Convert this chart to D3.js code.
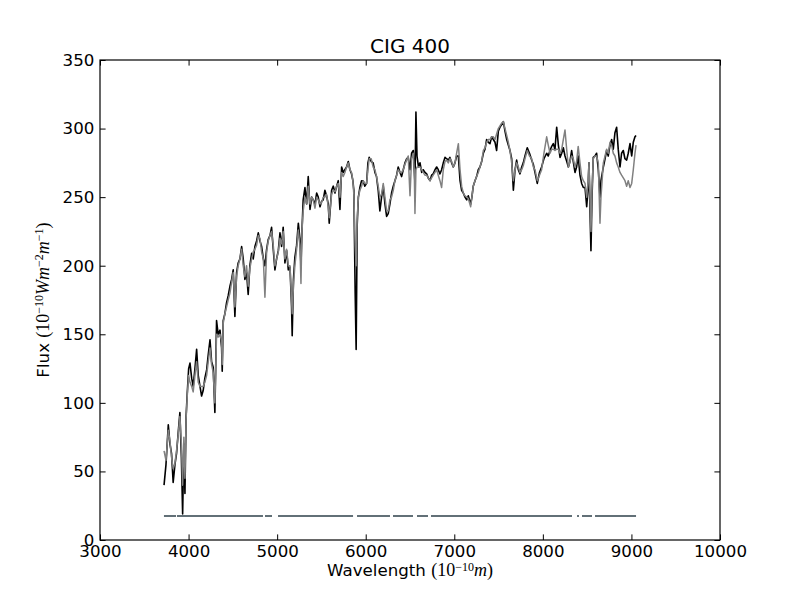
<!DOCTYPE html>
<html>
<head>
<meta charset="utf-8">
<script src="https://cdn.jsdelivr.net/npm/d3@7"></script>
<style>
  body { margin: 0; background: #fff; }
  text { font-family: "DejaVu Sans", sans-serif; fill: #000; }
  .math { font-family: "Liberation Serif", "DejaVu Serif", serif; }
</style>
</head>
<body>
<div id="chart"></div>
<script>
// wavelength grid (Angstrom)
var wave = [3723,3745,3771,3790,3808,3826,3846,3864,3885,3902,3919,3933,3947,3959,3972,3985,4001,4016,4035,4052,
  4072,4091,4109,4129,4147,4165,4184,4204,4222,4242,4260,4278,4297,4316,4334,4355,4373,4380,4391,4410,
  4429,4447,4467,4486,4504,4523,4542,4560,4580,4599,4617,4636,4655,4673,4692,4712,4730,4749,4768,4787,
  4806,4825,4844,4862,4881,4899,4919,4937,4956,4975,4994,5013,5032,5050,5068,5088,5107,5126,5145,5163,
  5170,5184,5200,5220,5239,5257,5269,5280,5294,5314,5333,5351,5371,5390,5407,5427,5446,5464,5484,5502,
  5520,5539,5558,5577,5588,5615,5634,5653,5672,5690,5709,5728,5746,5765,5784,5803,5822,5840,5855,5866,
  5881,5892,5904,5917,5934,5953,5971,5990,6010,6025,6039,6062,6084,6104,6122,6141,6160,6179,6198,6217,
  6236,6254,6273,6292,6311,6330,6349,6367,6387,6405,6424,6443,6462,6480,6500,6518,6537,6548,6556,6567,
  6579,6596,6613,6632,6649,6669,6688,6706,6726,6744,6762,6782,6801,6819,6838,6857,6876,6895,6913,6932,
  6951,6970,6989,7008,7026,7046,7065,7083,7102,7121,7140,7158,7185,7199,7214,7234,7252,7271,7290,7309,
  7328,7347,7365,7384,7403,7422,7441,7460,7478,7497,7516,7535,7554,7573,7592,7610,7629,7648,7667,7686,
  7704,7723,7742,7761,7779,7798,7824,7849,7874,7892,7911,7937,7962,7986,8012,8043,8061,8081,8100,8118,
  8137,8156,8175,8194,8213,8231,8250,8270,8288,8306,8325,8343,8363,8381,8399,8419,8438,8457,8476,8495,
  8509,8521,8532,8543,8555,8569,8589,8607,8626,8645,8656,8683,8702,8720,8738,8758,8777,8795,8814,8833,
  8851,8871,8889,8908,8927,8946,8964,8984,9003,9021,9040,9052];

// observed flux (black)
var fluxObs = [40,55,84,70,63,42,55,63,80,93,60,19,70,34,90,107,125,129,118,112,
  125,139,120,112,105,109,118,124,135,146,130,126,93,160,150,153,140,123,160,165,
  173,178,185,190,197,163,195,202,205,214,205,190,195,179,200,209,205,214,218,224,
  218,214,205,200,212,219,222,228,212,197,205,211,224,214,228,202,211,197,199,170,
  149,190,206,215,231,220,200,225,248,257,245,265,241,250,248,245,253,250,243,247,
  248,255,251,245,231,255,258,253,258,262,241,272,268,270,272,276,270,267,262,255,
  180,139,230,250,257,262,262,258,260,275,279,276,275,268,265,255,240,250,258,245,
  236,238,245,253,258,262,266,272,268,265,270,275,278,279,270,282,284,270,260,312,
  280,272,275,268,270,268,267,264,262,266,267,270,272,270,267,270,275,279,278,277,
  279,275,272,275,280,280,262,255,253,250,248,251,245,250,258,262,265,270,272,276,
  282,285,292,290,289,294,292,290,284,298,301,303,305,298,292,288,284,278,255,270,
  277,270,267,272,275,280,286,282,277,274,268,260,268,272,278,282,280,284,287,289,
  285,301,288,279,282,286,280,276,272,276,284,276,268,272,280,266,260,257,257,243,
  255,275,240,211,250,279,280,282,270,250,262,272,278,284,280,288,292,285,297,301,
  285,272,282,284,278,277,282,289,280,290,294,295];

// fitted model flux (grey)
var fluxModel = [65,58,80,72,60,52,56,65,78,90,70,40,75,45,88,105,120,115,112,108,
  120,130,115,112,112,112,115,120,130,140,128,122,100,150,148,150,145,128,158,165,
  170,175,180,188,195,170,192,200,205,212,200,192,200,185,198,205,210,212,215,222,
  220,210,205,177,210,218,222,225,215,200,205,210,220,216,225,205,212,200,200,175,
  165,185,200,212,226,215,187,225,240,250,245,258,245,250,248,242,250,248,245,246,
  250,250,252,243,235,252,255,254,258,260,250,268,265,268,272,275,270,268,262,252,
  215,200,235,250,255,258,262,260,260,270,278,278,272,270,265,258,250,252,260,250,
  240,240,248,250,255,262,266,270,268,268,270,274,277,280,251,278,282,270,238,270,
  272,272,272,270,268,266,266,264,262,264,266,268,270,266,262,257,270,276,277,275,
  278,276,272,275,282,289,270,258,253,251,250,249,243,250,258,262,265,268,272,276,
  284,286,290,292,292,294,294,292,296,300,302,304,305,300,295,290,284,275,262,270,
  275,272,268,270,273,278,284,280,278,272,270,262,266,270,282,294,288,282,285,285,
  284,285,285,282,285,292,299,284,272,276,280,278,272,276,287,275,265,262,260,250,
  260,275,250,225,255,278,280,280,275,231,250,275,280,285,282,290,288,282,280,275,
  272,268,266,264,262,258,262,257,260,270,282,288];

// masked-out wavelength ranges are the gaps; these are the kept pieces
var maskLevel = 17.5;
var maskSegments = [[3722,3858],[3869,4840],[4863,4942],[5010,5857],[5902,6274],[6308,6534],
  [6579,6703],[6737,8329],[8386,8408],[8442,8555],[8589,9052]];

var xTicks = [3000,4000,5000,6000,7000,8000,9000,10000];
var yTicks = [0,50,100,150,200,250,300,350];

var svgWidth = 800, svgHeight = 600;
var margin = { top: 60, left: 100, right: 80, bottom: 60 };
var chartWidth = svgWidth - margin.left - margin.right;
var chartHeight = svgHeight - margin.top - margin.bottom;
var tick = 5.6;

var svg = d3.select("#chart").append("svg")
  .attr("width", svgWidth)
  .attr("height", svgHeight);
var chartGroup = svg.append("g")
  .attr("transform", `translate(${margin.left}, ${margin.top})`);

var x = d3.scaleLinear().domain([3000, 10000]).range([0, chartWidth]);
var y = d3.scaleLinear().domain([0, 350]).range([chartHeight, 0]);

var line = d3.line()
  .x(function(d) { return x(d[0]); })
  .y(function(d) { return y(d[1]); });

chartGroup.append("path")
  .datum(wave.map(function(w, i) { return [w, fluxObs[i]]; }))
  .attr("d", line)
  .attr("fill", "none")
  .attr("stroke", "#000")
  .attr("stroke-width", 1.6)
  .attr("stroke-linejoin", "round");

chartGroup.append("path")
  .datum(wave.map(function(w, i) { return [w, fluxModel[i]]; }))
  .attr("d", line)
  .attr("fill", "none")
  .attr("stroke", "#808080")
  .attr("stroke-width", 1.5)
  .attr("stroke-linejoin", "round");

chartGroup.selectAll(".mask")
  .data(maskSegments)
  .enter().append("line")
  .attr("class", "mask")
  .attr("x1", function(d) { return x(d[0]); })
  .attr("x2", function(d) { return x(d[1]); })
  .attr("y1", y(maskLevel))
  .attr("y2", y(maskLevel))
  .attr("stroke", "#627077")
  .attr("stroke-width", 2);

// axes: ticks point inwards on all four sides, labels only left and bottom
function styleAxis(g) {
  g.select(".domain").remove();
  g.selectAll(".tick line").attr("stroke", "#000").attr("stroke-width", 1);
  g.selectAll(".tick text").attr("font-size", "16.67px").attr("font-family", "DejaVu Sans");
}

chartGroup.append("g")
  .attr("transform", `translate(0, ${chartHeight})`)
  .call(d3.axisBottom(x).tickValues(xTicks).tickFormat(d3.format("d"))
    .tickSizeInner(-tick).tickSizeOuter(0).tickPadding(5.6))
  .call(styleAxis);

chartGroup.append("g")
  .call(d3.axisTop(x).tickValues(xTicks).tickFormat("")
    .tickSizeInner(-tick).tickSizeOuter(0))
  .call(styleAxis);

chartGroup.append("g")
  .call(d3.axisLeft(y).tickValues(yTicks).tickFormat(d3.format("d"))
    .tickSizeInner(-tick).tickSizeOuter(0).tickPadding(5.6))
  .call(styleAxis);

chartGroup.append("g")
  .attr("transform", `translate(${chartWidth}, 0)`)
  .call(d3.axisRight(y).tickValues(yTicks).tickFormat("")
    .tickSizeInner(-tick).tickSizeOuter(0))
  .call(styleAxis);

chartGroup.append("rect")
  .attr("width", chartWidth)
  .attr("height", chartHeight)
  .attr("fill", "none")
  .attr("stroke", "#000")
  .attr("stroke-width", 1.2);

// title
chartGroup.append("text")
  .attr("x", chartWidth / 2)
  .attr("y", -7.5)
  .attr("text-anchor", "middle")
  .attr("font-size", "20px")
  .text("CIG 400");

// x label: Wavelength (10^-10 m)
var xLabel = chartGroup.append("text")
  .attr("x", chartWidth / 2)
  .attr("y", chartHeight + 36)
  .attr("text-anchor", "middle")
  .attr("font-size", "16.67px");
xLabel.append("tspan").text("Wavelength ");
xLabel.append("tspan").attr("class", "math").attr("font-size", "18px").text("(10");
xLabel.append("tspan").attr("class", "math").attr("font-size", "12px").attr("dy", "-5").text("\u221210");
xLabel.append("tspan").attr("class", "math").attr("font-size", "18px").attr("font-style", "italic").attr("dy", "5").text("m");
xLabel.append("tspan").attr("class", "math").attr("font-size", "18px").text(")");

// y label: Flux (10^-10 W m^-2 m^-1)
var yLabel = chartGroup.append("text")
  .attr("transform", `translate(${-51}, ${chartHeight / 2}) rotate(-90)`)
  .attr("text-anchor", "middle")
  .attr("font-size", "16.67px");
yLabel.append("tspan").text("Flux ");
yLabel.append("tspan").attr("class", "math").attr("font-size", "18px").text("(10");
yLabel.append("tspan").attr("class", "math").attr("font-size", "12px").attr("dy", "-6").text("\u221210");
yLabel.append("tspan").attr("class", "math").attr("font-size", "18px").attr("font-style", "italic").attr("dy", "6").text("Wm");
yLabel.append("tspan").attr("class", "math").attr("font-size", "12px").attr("dy", "-6").text("\u22122");
yLabel.append("tspan").attr("class", "math").attr("font-size", "18px").attr("font-style", "italic").attr("dy", "6").text("m");
yLabel.append("tspan").attr("class", "math").attr("font-size", "12px").attr("dy", "-6").text("\u22121");
yLabel.append("tspan").attr("class", "math").attr("font-size", "18px").attr("dy", "6").text(")");
</script>
</body>
</html>
